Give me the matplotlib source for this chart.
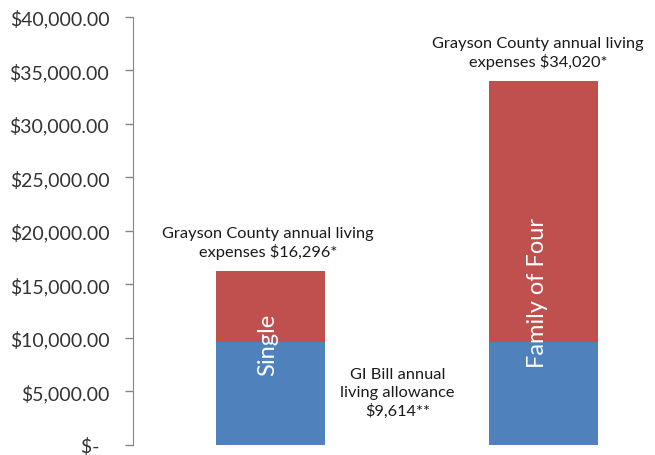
import matplotlib.pyplot as plt
from matplotlib.ticker import FuncFormatter

plt.rcParams['font.family'] = ['Lato', 'DejaVu Sans']

categories = ['Single', 'Family of Four']
gi_bill = [9614, 9614]
living_total = [16296, 34020]
y_ticks = [0, 5000, 10000, 15000, 20000, 25000, 30000, 35000, 40000]

blue = '#4F81BD'
red = '#C0504D'

extra = [t - g for t, g in zip(living_total, gi_bill)]
x = list(range(len(categories)))

fig = plt.figure(figsize=(6.55, 4.56), dpi=100)
ax = fig.add_axes([0.203, 0.022, 0.797, 0.939])

ax.bar(x, gi_bill, width=0.4, color=blue)
ax.bar(x, extra, width=0.4, bottom=gi_bill, color=red)

ax.set_xlim(-0.505, 1.41)
ax.set_ylim(0, 40000)
ax.set_yticks(y_ticks)


def money(v, pos):
    if v == 0:
        return '$-  '
    return '${:,.2f}'.format(v)


ax.yaxis.set_major_formatter(FuncFormatter(money))
ax.tick_params(axis='y', length=6, width=1, color='#868686', pad=11,
               labelsize=14, labelcolor='#333333')
ax.set_xticks([])
for s in ['top', 'right', 'bottom']:
    ax.spines[s].set_visible(False)
ax.spines['left'].set_color('#868686')

# category names written inside the bars
ax.text(x[0] - 0.01, 9400, categories[0], rotation=90, color='white',
        fontsize=17, ha='center', va='center')
ax.text(x[1] - 0.02, 14300, categories[1], rotation=90, color='white',
        fontsize=17, ha='center', va='center')

note = 'Grayson County annual living\nexpenses ${:,}*'
ax.text(x[0] - 0.01, living_total[0] + 1100, note.format(living_total[0]),
        ha='center', va='bottom', fontsize=11.8, color='#1a1a1a',
        linespacing=1.25)
ax.text(x[1] - 0.02, living_total[1] + 1100, note.format(living_total[1]),
        ha='center', va='bottom', fontsize=11.8, color='#1a1a1a',
        linespacing=1.25)
ax.text(0.465, 4900, 'GI Bill annual\nliving allowance\n${:,}**'.format(gi_bill[0]),
        ha='center', va='center', fontsize=11.8, color='#1a1a1a',
        linespacing=1.35)

fig.savefig('out.png', dpi=100)
